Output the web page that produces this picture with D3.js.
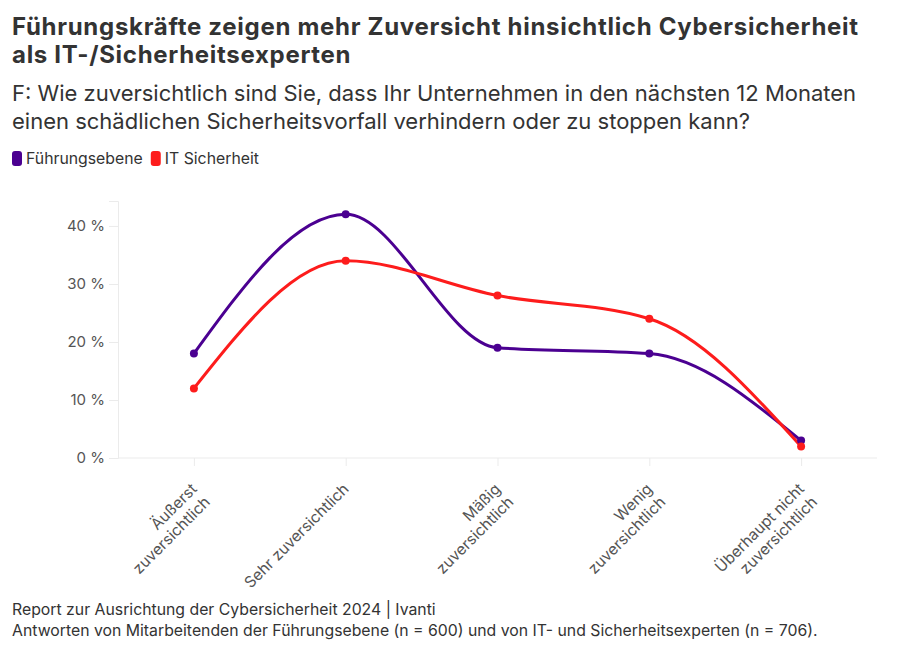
<!DOCTYPE html>
<html><head><meta charset="utf-8">
<script src="https://cdn.jsdelivr.net/npm/d3@7"></script>
<style>
body{margin:0;background:#fff;font-family:Inter,"Noto Sans",sans-serif;}
svg text{font-family:Inter,"Noto Sans",sans-serif;}
</style></head>
<body><svg id="c" width="900" height="651"></svg>
<script>
const categories = [["Äußerst","zuversichtlich"],["Sehr zuversichtlich"],["Mäßig","zuversichtlich"],["Wenig","zuversichtlich"],["Überhaupt nicht","zuversichtlich"]];
const categoryKeys = ["Äußerst zuversichtlich","Sehr zuversichtlich","Mäßig zuversichtlich","Wenig zuversichtlich","Überhaupt nicht zuversichtlich"];
const seriesNames = ["Führungsebene","IT Sicherheit"];
const seriesColors = ["#4b0091","#fd1c1c"];
const fuehrung = [18,42,19,18,3];
const itSicherheit = [12,34,28,24,2];
const yTicks = [0,10,20,30,40];
const titleLines = ["Führungskräfte zeigen mehr Zuversicht hinsichtlich Cybersicherheit","als IT-/Sicherheitsexperten"];
const subtitleLines = ["F: Wie zuversichtlich sind Sie, dass Ihr Unternehmen in den nächsten 12 Monaten","einen schädlichen Sicherheitsvorfall verhindern oder zu stoppen kann?"];
const footerLines = ["Report zur Ausrichtung der Cybersicherheit 2024 | Ivanti","Antworten von Mitarbeitenden der Führungsebene (n = 600) und von IT- und Sicherheitsexperten (n = 706)."];

const svg = d3.select("#c");
const seriesData = [fuehrung, itSicherheit];

// Title
svg.append("g").selectAll("text").data(titleLines).join("text")
  .attr("x",12).attr("y",(d,i)=>35+i*28)
  .attr("font-size",24).attr("font-weight",700).attr("letter-spacing",0.7).attr("fill","#333").text(d=>d);
svg.append("g").selectAll("text").data(subtitleLines).join("text")
  .attr("x",12).attr("y",(d,i)=>101+i*28)
  .attr("font-size",22).attr("fill","#333").text(d=>d);

// Legend
const leg = svg.append("g").attr("transform","translate(12,158)");
let lx = 0;
seriesNames.forEach((n,i)=>{
  const g = leg.append("g").attr("transform",`translate(${lx},0)`);
  g.append("rect").attr("x",0).attr("y",-7).attr("width",10).attr("height",15).attr("rx",3).attr("fill",seriesColors[i]);
  const t = g.append("text").attr("x",14).attr("y",5.5).attr("font-size",15.8).attr("fill","#333").text(n);
  lx += 14 + t.node().getComputedTextLength() + 8;
});

// Scales
const x = d3.scalePoint().domain(categoryKeys).range([118,877]).padding(0.5);
const y = d3.scaleLinear().domain([0,44.3]).range([458,201]);

// Y axis
const ya = svg.append("g").attr("transform","translate(118,0)")
  .call(d3.axisLeft(y).tickValues(yTicks).tickSize(9).tickPadding(4).tickFormat(d=>d+" %"));
ya.select(".domain").attr("stroke","#ebebeb");
ya.selectAll(".tick line").attr("stroke","#ebebeb");
ya.selectAll(".tick text").attr("font-size",15).attr("fill","#555").attr("font-family","Inter");

// X axis
const xa = svg.append("g").attr("transform","translate(0,458)")
  .call(d3.axisBottom(x).tickSize(8).tickFormat(""));
xa.select(".domain").attr("stroke","#ebebeb").attr("d","M118,0H877");
xa.selectAll(".tick line").attr("stroke","#ebebeb");

// X labels rotated
const xl = svg.append("g");
categoryKeys.forEach((k,i)=>{
  const lines = categories[i];
  const cx = x(k)+4, cy = 490;
  const t = xl.append("text").attr("transform",`translate(${cx},${cy}) rotate(-45)`)
    .attr("text-anchor","end").attr("font-size",15.5).attr("fill","#555");
  lines.forEach((l,j)=>{
    t.append("tspan").attr("x",0).attr("dy", j===0?0:18.5).text(l);
  });
});

// Lines
const line = d3.line().x((d,i)=>x(categoryKeys[i])).y(d=>y(d)).curve(d3.curveMonotoneX);
seriesData.forEach((s,si)=>{
  svg.append("path").datum(s).attr("d",line).attr("fill","none")
    .attr("stroke",seriesColors[si]).attr("stroke-width",3);
});
seriesData.forEach((s,si)=>{
  svg.append("g").selectAll("circle").data(s).join("circle")
    .attr("cx",(d,i)=>x(categoryKeys[i])).attr("cy",d=>y(d)).attr("r",4)
    .attr("fill",seriesColors[si]);
});

// Footer
svg.append("g").selectAll("text").data(footerLines).join("text")
  .attr("x",12).attr("y",(d,i)=>615+i*21)
  .attr("font-size",15.8).attr("fill","#333").text(d=>d);
</script></body></html>
